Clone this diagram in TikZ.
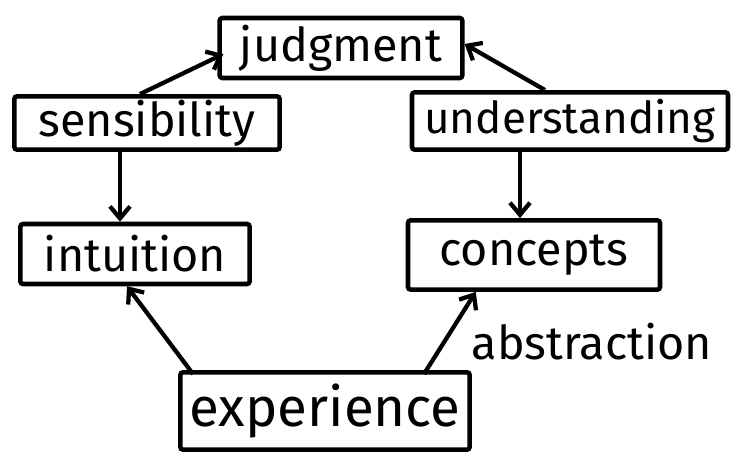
\documentclass[tikz,border=0pt]{standalone}
\usepackage{fontspec}
\setmainfont{Fira Sans}
\usetikzlibrary{calc,arrows.meta}
\begin{document}
\begin{tikzpicture}[x=0.75pt,y=-0.75pt,
  box/.style={draw,line width=3.4pt,rectangle,rounded corners=2pt,inner sep=0pt,font=\fontsize{35}{37}\selectfont},
  arr/.style={line width=3.2pt,-{Straight Barb[length=9pt,width=15pt,line width=3.2pt]}}]
\useasboundingbox (0,0) rectangle (744,463);
\node[box,minimum width=182pt,minimum height=45pt] (judg) at (341,48) {judgment};
\node[box,minimum width=199pt,minimum height=40pt] (sens) at (147,123) {sensibility};
\node[box,minimum width=237pt,minimum height=43pt,font=\fontsize{33}{35}\selectfont] (und) at (570,121) {understanding};
\node[box,minimum width=172pt,minimum height=45pt] (intu) at (135,254) {intuition};
\node[box,minimum width=189pt,minimum height=52pt] (conc) at (534,255) {concepts};
\node[box,minimum width=217pt,minimum height=58pt,font=\fontsize{41}{43}\selectfont] (exp) at (325,411) {experience};
\node[font=\fontsize{35}{37}\selectfont] (abs) at (592,342) {abstraction};
\draw[arr] ($(sens.north)+(-7,0)$) -- ($(judg.west)+(6,6)$);
\draw[arr] ($(und.north)+(-25,0)$) -- ($(judg.east)+(0,-4)$);
\draw[arr] ($(sens.south)+(-27,0)$) -- ($(intu.north)+(-15,0)$);
\draw[arr] ($(und.south)+(-50,0)$) -- ($(conc.north)+(-14,0)$);
\draw[arr] ($(exp.north west)+(15,4)$) -- ($(intu.south)+(-8,0)$);
\draw[arr] ($(exp.north east)+(-48,4)$) -- ($(conc.south west)+(70,0)$);
\end{tikzpicture}
\end{document}
